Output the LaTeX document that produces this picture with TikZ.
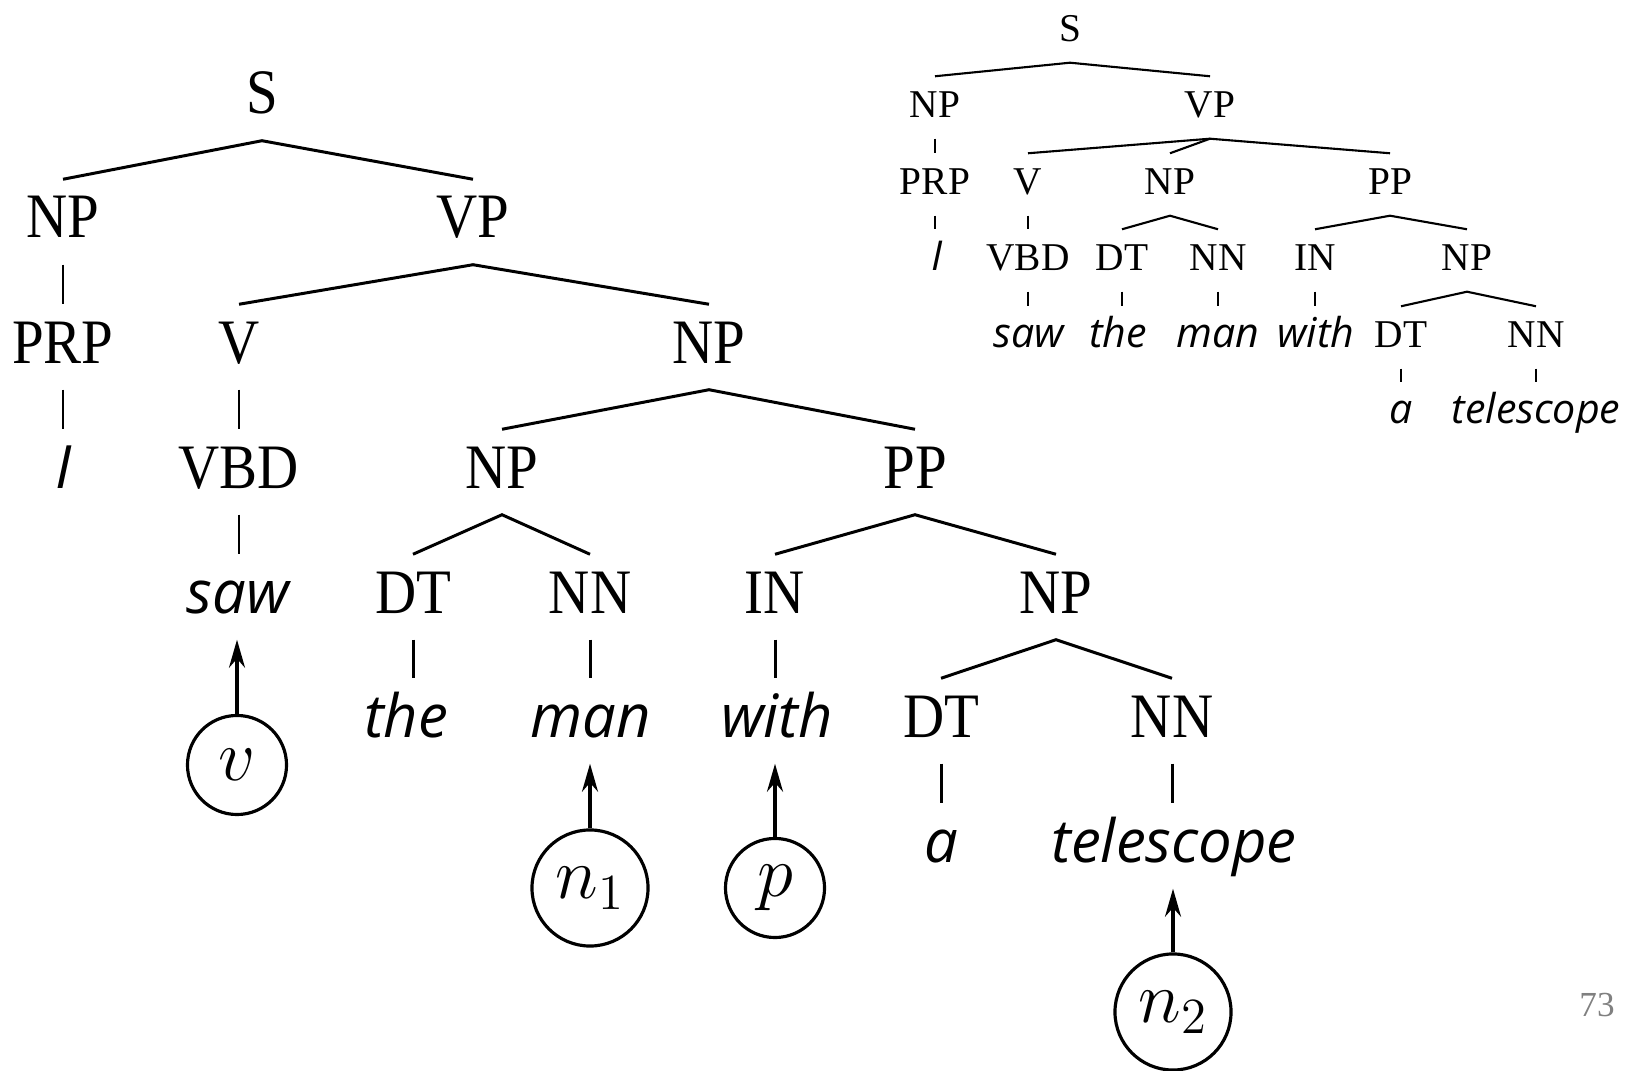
\documentclass[tikz,border=0pt]{standalone}
\usepackage{fontspec}
\setmainfont{Liberation Serif}
\newfontfamily\bigtagfont{Liberation Serif}[FakeStretch=0.9]
\newfontfamily\wordfont{Open Sans}
\usetikzlibrary{arrows.meta}
\tikzset{
  tagL/.style={font=\bigtagfont\fontsize{18}{21}\selectfont, text height=0.42cm, text depth=0pt, inner xsep=0pt, inner ysep=0.16cm},
  wordL/.style={tagL, font=\wordfont\itshape\fontsize{17}{20}\selectfont},
  tagR/.style={font=\fontsize{11.2}{13}\selectfont, text height=0.26cm, text depth=0pt, inner xsep=0pt, inner ysep=0.15cm},
  wordR/.style={tagR, font=\wordfont\itshape\fontsize{11.7}{14}\selectfont},
  var/.style={circle, draw, line width=0.9pt, inner sep=0pt, minimum size=0.99cm, font=\fontsize{20}{24}\selectfont},
  arr/.style={-{Stealth[length=2.8mm,width=1.6mm,inset=0.9mm]}, line width=0.9pt},
}
\begin{document}
\begin{tikzpicture}[x=0.01cm,y=-0.01cm]
            \useasboundingbox (0,0) rectangle (1631,1071);
            % left tree
            \node[tagL] (lS) at (262,93) {S};
            \node[tagL] (lNP1) at (63,217) {NP};
            \node[tagL] (lVP) at (473,217) {VP};
            \node[tagL] (lPRP) at (63,342) {PRP};
            \node[tagL] (lV) at (239,342) {V};
            \node[tagL] (lNP2) at (709,342) {NP};
            \node[wordL] (lI) at (64,467) {I};
            \node[tagL] (lVBD) at (239,467) {VBD};
            \node[tagL] (lNP3) at (502,467) {NP};
            \node[tagL] (lPP) at (915,467) {PP};
            \node[wordL] (lsaw) at (238,592) {saw};
            \node[tagL] (lDT1) at (413,592) {DT};
            \node[tagL] (lNN1) at (590,592) {NN};
            \node[tagL] (lIN) at (775,592) {IN};
            \node[tagL] (lNP4) at (1056,592) {NP};
            \node[wordL] (lthe) at (406,716) {the};
            \node[wordL] (lman) at (591,716) {man};
            \node[wordL] (lwith) at (777,716) {with};
            \node[tagL] (lDT2) at (941,716) {DT};
            \node[tagL] (lNN2) at (1172,716) {NN};
            \node[wordL] (la) at (941,841) {a};
            \node[wordL] (ltelescope) at (1174,841) {telescope};
            \begin{scope}[line width=0.85pt]
            \draw (lNP1.north) -- ([yshift=-1mm]lS.south) -- (lVP.north);
            \draw ([yshift=-1mm]lNP1.south) -- (lPRP.north);
            \draw (lV.north) -- ([yshift=-1mm]lVP.south) -- (lNP2.north);
            \draw ([yshift=-1mm]lPRP.south) -- (lPRP.south |- lI.north);
            \draw ([yshift=-1mm]lV.south) -- (lVBD.north);
            \draw (lNP3.north) -- ([yshift=-1mm]lNP2.south) -- (lPP.north);
            \draw ([yshift=-1mm]lVBD.south) -- (lVBD.south |- lsaw.north);
            \draw (lDT1.north) -- ([yshift=-1mm]lNP3.south) -- (lNN1.north);
            \draw (lIN.north) -- ([yshift=-1mm]lPP.south) -- (lNP4.north);
            \draw ([yshift=-1mm]lDT1.south) -- (lDT1.south |- lthe.north);
            \draw ([yshift=-1mm]lNN1.south) -- (lNN1.south |- lman.north);
            \draw ([yshift=-1mm]lIN.south) -- (lIN.south |- lwith.north);
            \draw (lDT2.north) -- ([yshift=-1mm]lNP4.south) -- (lNN2.north);
            \draw ([yshift=-1mm]lDT2.south) -- (lDT2.south |- la.north);
            \draw ([yshift=-1mm]lNN2.south) -- (lNN2.south |- ltelescope.north);
            \end{scope}
            % head words
            \node[var] (cv) at (237,765) {$v$};
            \node[var,minimum size=1.16cm] (cn1) at (590,888) {$n_1$};
            \node[var] (cp) at (775,888) {$p$};
            \node[var,minimum size=1.16cm] (cn2) at (1173,1012) {$n_2$};
            \draw[arr] (cv.north) -- ([yshift=-1mm]cv.north |- lsaw.south);
            \draw[arr] (cn1.north) -- ([yshift=-1mm]cn1.north |- lman.south);
            \draw[arr] (cp.north) -- ([yshift=-1mm]cp.north |- lwith.south);
            \draw[arr] (cn2.north) -- ([yshift=-1mm]cn2.north |- ltelescope.south);
            % right tree
            \node[tagR] (rS) at (1070,29) {S};
            \node[tagR] (rNP1) at (935,105) {NP};
            \node[tagR] (rVP) at (1210,105) {VP};
            \node[tagR] (rPRP) at (935,182) {PRP};
            \node[tagR] (rV) at (1028,182) {V};
            \node[tagR] (rNP2) at (1170,182) {NP};
            \node[tagR] (rPP) at (1390,182) {PP};
            \node[wordR] (rI) at (937,258) {I};
            \node[tagR] (rVBD) at (1028,258) {VBD};
            \node[tagR] (rDT1) at (1122,258) {DT};
            \node[tagR] (rNN1) at (1218,258) {NN};
            \node[tagR] (rIN) at (1315,258) {IN};
            \node[tagR] (rNP3) at (1467,258) {NP};
            \node[wordR] (rsaw) at (1029,335) {saw};
            \node[wordR] (rthe) at (1118,335) {the};
            \node[wordR] (rman) at (1218,335) {man};
            \node[wordR] (rwith) at (1316,335) {with};
            \node[tagR] (rDT2) at (1401,335) {DT};
            \node[tagR] (rNN2) at (1536,335) {NN};
            \node[wordR] (ra) at (1401,411) {a};
            \node[wordR] (rtelescope) at (1536,411) {telescope};
            \begin{scope}[line width=0.6pt]
            \draw (rNP1.north) -- ([yshift=-0.5mm]rS.south) -- (rVP.north);
            \draw ([yshift=-0.5mm]rNP1.south) -- (rPRP.north);
            \draw (rV.north) -- ([yshift=-0.5mm]rVP.south) -- (rPP.north);
            \draw ([yshift=-0.5mm]rVP.south) -- (rNP2.north);
            \draw ([yshift=-0.5mm]rPRP.south) -- (rPRP.south |- rI.north);
            \draw ([yshift=-0.5mm]rV.south) -- (rVBD.north);
            \draw (rDT1.north) -- ([yshift=-0.5mm]rNP2.south) -- (rNN1.north);
            \draw (rIN.north) -- ([yshift=-0.5mm]rPP.south) -- (rNP3.north);
            \draw ([yshift=-0.5mm]rVBD.south) -- (rVBD.south |- rsaw.north);
            \draw ([yshift=-0.5mm]rDT1.south) -- (rDT1.south |- rthe.north);
            \draw ([yshift=-0.5mm]rNN1.south) -- (rNN1.south |- rman.north);
            \draw ([yshift=-0.5mm]rIN.south) -- (rIN.south |- rwith.north);
            \draw (rDT2.north) -- ([yshift=-0.5mm]rNP3.south) -- (rNN2.north);
            \draw ([yshift=-0.5mm]rDT2.south) -- (rDT2.south |- ra.north);
            \draw ([yshift=-0.5mm]rNN2.south) -- (rNN2.south |- rtelescope.north);
            \end{scope}
            \node[font=\fontsize{10}{12}\selectfont, text=gray] (pagenum) at (1597,1005) {73};
         \end{tikzpicture}
\end{document}
